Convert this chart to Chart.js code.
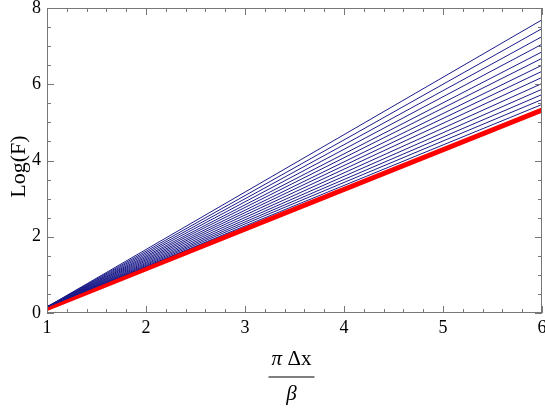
<!DOCTYPE html>
<html>
<head>
<meta charset="utf-8">
<script src="https://cdn.jsdelivr.net/npm/chart.js@4.4.1/dist/chart.umd.min.js"></script>
<style>
  html, body { margin: 0; padding: 0; background: #fff; }
  #wrap { width: 545px; height: 413px; position: relative; }
</style>
</head>
<body>
<div id="wrap"><canvas id="chart"></canvas></div>
<script>
// x range of every line (straight lines, two end points each)
const xEnds = [1, 6];

// blue family: value at x=1 and at x=6
const blueStart = [0.16, 0.16, 0.16, 0.16, 0.16, 0.16, 0.16, 0.16, 0.16, 0.16, 0.16, 0.16, 0.16, 0.16];
const blueEnd = [7.69, 7.46, 7.25, 7.05, 6.85, 6.68, 6.50, 6.34, 6.18, 6.02, 5.87, 5.73, 5.60, 5.47];

// red limiting line
const redStart = 0.12;
const redEnd = 5.32;

const xTicks = [1, 2, 3, 4, 5, 6];
const yTicks = [0, 2, 4, 6, 8];

const serif = "'Liberation Serif', 'DejaVu Serif', serif";
const frameColor = '#777';

const datasets = blueEnd.map((v, i) => ({
    data: [{ x: xEnds[0], y: blueStart[i] }, { x: xEnds[1], y: v }],
    borderColor: '#1c1c8a',
    borderWidth: 1,
    pointRadius: 0,
    fill: false
}));
datasets.push({
    data: [{ x: xEnds[0], y: redStart }, { x: xEnds[1], y: redEnd }],
    borderColor: '#ff0000',
    borderWidth: 5,
    pointRadius: 0,
    fill: false
});

// frame with inward major/minor ticks on all four sides, plus axis titles
const framePlugin = {
    id: 'frame',
    afterDraw(chart) {
        const { ctx, chartArea: a, scales } = chart;
        const xs = scales.x, ys = scales.y;
        ctx.save();
        ctx.strokeStyle = frameColor;
        ctx.lineWidth = 1;
        ctx.strokeRect(a.left + 0.5, a.top + 0.5, a.right - a.left - 1, a.bottom - a.top - 1);
        ctx.beginPath();
        for (let v = 1; v <= 6.0001; v += 0.2) {
            const px = Math.round(xs.getPixelForValue(v)) + 0.5;
            const len = Math.abs(v - Math.round(v)) < 1e-6 ? 7 : 4;
            ctx.moveTo(px, a.bottom); ctx.lineTo(px, a.bottom - len);
            ctx.moveTo(px, a.top); ctx.lineTo(px, a.top + len);
        }
        for (let v = 0; v <= 8.0001; v += 0.5) {
            const py = Math.round(ys.getPixelForValue(v)) + 0.5;
            const len = Math.abs(v / 2 - Math.round(v / 2)) < 1e-6 ? 7 : 4;
            ctx.moveTo(a.left, py); ctx.lineTo(a.left + len, py);
            ctx.moveTo(a.right, py); ctx.lineTo(a.right - len, py);
        }
        ctx.stroke();

        // y title
        ctx.fillStyle = '#000';
        ctx.translate(19, (a.top + a.bottom) / 2 + 6);
        ctx.rotate(-Math.PI / 2);
        ctx.font = '22px ' + serif;
        ctx.textAlign = 'center';
        ctx.textBaseline = 'middle';
        ctx.fillText('Log(F)', 0, 0);
        ctx.setTransform(1, 0, 0, 1, 0, 0);

        // x title as a fraction
        const cx = (a.left + a.right) / 2 - 3;
        ctx.textBaseline = 'alphabetic';
        ctx.font = 'italic 21px ' + serif;
        const piW = ctx.measureText('\u03c0 ').width;
        ctx.font = '21px ' + serif;
        const dxW = ctx.measureText('\u0394x').width;
        const left = cx - (piW + dxW) / 2;
        ctx.textAlign = 'left';
        ctx.font = 'italic 21px ' + serif;
        ctx.fillText('\u03c0 ', left, 365);
        ctx.font = '21px ' + serif;
        ctx.fillText('\u0394x', left + piW, 365);
        ctx.beginPath();
        ctx.strokeStyle = '#000';
        ctx.lineWidth = 1.2;
        ctx.moveTo(cx - 23, 377);
        ctx.lineTo(cx + 23, 377);
        ctx.stroke();
        ctx.textAlign = 'center';
        ctx.font = 'italic 21px ' + serif;
        ctx.fillText('\u03b2', cx, 400);
        ctx.restore();
    }
};

const chart = new Chart(document.getElementById('chart'), {
    type: 'line',
    data: { datasets: datasets },
    options: {
        responsive: true,
        maintainAspectRatio: false,
        animation: false,
        events: [],
        layout: { padding: { top: 8, right: 3, left: 0, bottom: 0 } },
        plugins: { legend: { display: false }, tooltip: { enabled: false } },
        scales: {
            x: {
                type: 'linear',
                min: 1,
                max: 6,
                afterFit(scale) {
                    scale.height = 100;
                    scale.paddingRight = 0;
                    scale.paddingLeft = 0;
                },
                afterBuildTicks(scale) { scale.ticks = xTicks.map(v => ({ value: v })); },
                grid: { display: false, drawTicks: false },
                border: { display: false },
                ticks: { color: '#000', padding: 4, font: { family: serif, size: 18 } }
            },
            y: {
                min: 0,
                max: 8,
                afterFit(scale) {
                    scale.width = 47;
                    scale.paddingTop = 0;
                    scale.paddingBottom = 0;
                },
                afterBuildTicks(scale) { scale.ticks = yTicks.map(v => ({ value: v })); },
                grid: { display: false, drawTicks: false },
                border: { display: false },
                ticks: { color: '#000', padding: 6, font: { family: serif, size: 18 } }
            }
        }
    },
    plugins: [framePlugin]
});
</script>
</body>
</html>
